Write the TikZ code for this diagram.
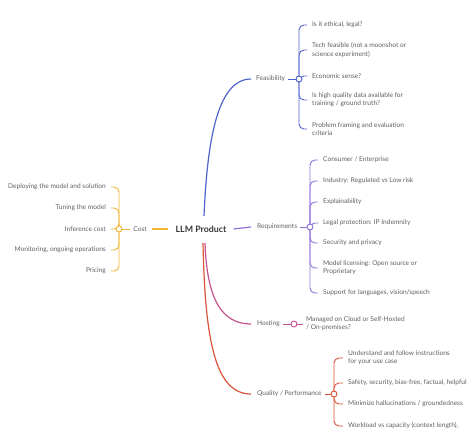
\documentclass[tikz,border=0pt]{standalone}
\usepackage{fontspec}
\setmainfont{Lato}
\definecolor{feacol}{RGB}{80,98,205}
\definecolor{reqcol}{RGB}{142,112,215}
\definecolor{hostcol}{RGB}{196,82,142}
\definecolor{qualcol}{RGB}{218,82,56}
\definecolor{costcol}{RGB}{240,182,52}
\definecolor{txtgray}{RGB}{95,95,95}
\definecolor{txtdark}{RGB}{55,55,55}
\tikzset{
  leaf/.style={font=\fontsize{6.6}{8.2}\selectfont, text=txtgray, inner sep=0pt, align=left},
  topic/.style={leaf},
  knot/.style={circle, draw, fill=white, line width=0.9pt, minimum size=6pt, inner sep=0pt},
  twig/.style={line width=0.9pt, rounded corners=5pt, shorten >=5pt},
  stub/.style={line width=0.9pt},
  limb/.style={line width=1.2pt},
}
\begin{document}
\begin{tikzpicture}[x=1pt,y=-1pt]
    \useasboundingbox (0,0) rectangle (474,430);

    % nodo centrale
    \node[font=\fontsize{8.8}{10}\selectfont\bfseries, text=txtdark, inner sep=1pt] (llm) at (201,229) {LLM Product};

    % Feasibility
    \node[topic, anchor=west] (fea) at (256,79) {Feasibility};
    \coordinate (feak) at (299,79);
    \node[leaf, anchor=west] (fea1) at (312,25) {Is it ethical, legal?};
    \node[leaf, anchor=west] (fea2) at (312,50) {Tech feasible (not a moonshot or\\science experiment)};
    \node[leaf, anchor=west] (fea3) at (312,76) {Economic sense?};
    \node[leaf, anchor=west] (fea4) at (312,100) {Is high quality data available for\\training / ground truth?};
    \node[leaf, anchor=west] (fea5) at (312,129) {Problem framing and evaluation\\criteria};
    \foreach \n in {1,...,5}
        \draw[twig, feacol] (feak) |- (fea\n.west);
    \draw[limb, feacol] (204,216) .. controls (207,150) and (215,79) .. ([xshift=-5pt]fea.west);
    \draw[stub, feacol] ([xshift=3pt]fea.east) -- (feak);
    \node[knot, draw=feacol] at (feak) {};

    % Requirements
    \node[topic, anchor=west] (req) at (257,227) {Requirements};
    \coordinate (reqk) at (310,227);
    \node[leaf, anchor=west] (req1) at (323,160) {Consumer / Enterprise};
    \node[leaf, anchor=west] (req2) at (323,181) {Industry: Regulated vs Low risk};
    \node[leaf, anchor=west] (req3) at (323,202) {Explainability};
    \node[leaf, anchor=west] (req4) at (323,223) {Legal protection: IP Indemnity};
    \node[leaf, anchor=west] (req5) at (323,243) {Security and privacy};
    \node[leaf, anchor=west] (req6) at (323,268) {Model licensing: Open source or\\Proprietary};
    \node[leaf, anchor=west] (req7) at (323,293) {Support for languages, vision/speech};
    \foreach \n in {1,...,7}
        \draw[twig, reqcol] (reqk) |- (req\n.west);
    \draw[limb, reqcol] ([xshift=6pt]llm.east) -- ([xshift=-6pt]req.west);
    \draw[stub, reqcol] ([xshift=3pt]req.east) -- (reqk);
    \node[knot, draw=reqcol] at (reqk) {};

    % Hosting
    \node[topic, anchor=west] (host) at (257,324) {Hosting};
    \coordinate (hostk) at (294,324);
    \node[leaf, anchor=west] (host1) at (306,324) {Managed on Cloud or Self-Hosted\\/ On-premises?};
    \draw[limb, hostcol] (205,243) .. controls (207,300) and (222,324) .. ([xshift=-6pt]host.west);
    \draw[stub, hostcol] ([xshift=3pt]host.east) -- ([xshift=-3pt]host1.west);
    \node[knot, draw=hostcol] at (hostk) {};

    % Quality / Performance
    \node[topic, anchor=west] (qual) at (257,394) {Quality / Performance};
    \coordinate (qualk) at (334,394);
    \node[leaf, anchor=west] (qual1) at (348,358) {Understand and follow instructions\\for your use case};
    \node[leaf, anchor=west] (qual2) at (348,383) {Safety, security, bias-free, factual, helpful};
    \node[leaf, anchor=west] (qual3) at (348,404) {Minimize hallucinations / groundedness};
    \node[leaf, anchor=west] (qual4) at (348,426) {Workload vs capacity (context length),};
    \foreach \n in {1,...,4}
        \draw[twig, qualcol] (qualk) |- (qual\n.west);
    \draw[limb, qualcol] (203,243) .. controls (205,340) and (215,394) .. ([xshift=-6pt]qual.west);
    \draw[stub, qualcol] ([xshift=3pt]qual.east) -- (qualk);
    \node[knot, draw=qualcol] at (qualk) {};

    % Cost (lato sinistro)
    \node[topic, anchor=east] (cost) at (147,229) {Cost};
    \coordinate (costk) at (119,229);
    \node[leaf, anchor=east] (cost1) at (106,187) {Deploying the model and solution};
    \node[leaf, anchor=east] (cost2) at (106,208) {Tuning the model};
    \node[leaf, anchor=east] (cost3) at (106,229) {Inference cost};
    \node[leaf, anchor=east] (cost4) at (106,250) {Monitoring, ongoing operations};
    \node[leaf, anchor=east] (cost5) at (106,271) {Pricing};
    \foreach \n in {1,...,5}
        \draw[twig, costcol] (costk) |- (cost\n.east);
    \draw[limb, costcol] ([xshift=-6pt]llm.west) -- ([xshift=5pt]cost.east);
    \draw[stub, costcol] ([xshift=-3pt]cost.west) -- (costk);
    \node[knot, draw=costcol] at (costk) {};
\end{tikzpicture}
\end{document}
